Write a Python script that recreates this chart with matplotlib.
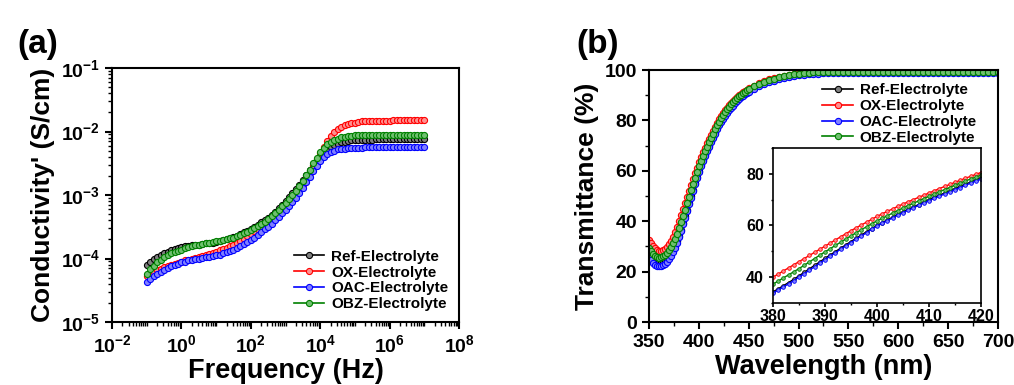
import numpy as np
import matplotlib
matplotlib.use('Agg')
import matplotlib.pyplot as plt
from matplotlib.ticker import FixedLocator, LogLocator, NullFormatter, MultipleLocator, FuncFormatter

plt.rcParams['font.family'] = ['Liberation Sans', 'DejaVu Sans']
plt.rcParams['font.weight'] = 'bold'
plt.rcParams['mathtext.fontset'] = 'custom'
plt.rcParams['mathtext.rm'] = 'Liberation Sans:bold'
plt.rcParams['mathtext.it'] = 'Liberation Sans:bold'
plt.rcParams['mathtext.bf'] = 'Liberation Sans:bold'

labels = ['Ref-Electrolyte', 'OX-Electrolyte', 'OAC-Electrolyte', 'OBZ-Electrolyte']
colors = ['#000000', '#ff0000', '#0000ff', '#008000']
fills = ['#808080', '#ff9090', '#8080ff', '#70c070']

# (a) conductivity, log10 values at 10 points per decade from 0.1 Hz to 1e7 Hz
freq = np.logspace(-1, 7, 81)
ref_log = [-4.10, -4.05, -4.01, -3.97, -3.94, -3.91, -3.89, -3.87, -3.85, -3.84,
           -3.82, -3.81, -3.80, -3.79, -3.79, -3.78, -3.77, -3.76, -3.76, -3.75,
           -3.74, -3.73, -3.71, -3.70, -3.68, -3.66, -3.64, -3.61, -3.59, -3.56,
           -3.53, -3.50, -3.47, -3.43, -3.40, -3.36, -3.31, -3.26, -3.21, -3.15,
           -3.09, -3.03, -2.97, -2.90, -2.84, -2.77, -2.69, -2.61, -2.53, -2.46,
           -2.39, -2.33, -2.28, -2.24, -2.21, -2.19, -2.17, -2.16, -2.15, -2.14,
           -2.14, -2.13, -2.13, -2.13, -2.13, -2.13, -2.12, -2.12, -2.12, -2.12,
           -2.12, -2.12, -2.12, -2.12, -2.12, -2.12, -2.12, -2.12, -2.12, -2.12, -2.12]
ox_log = [-4.27, -4.24, -4.21, -4.18, -4.16, -4.14, -4.12, -4.10, -4.08, -4.07,
          -4.05, -4.03, -4.02, -4.00, -3.99, -3.97, -3.96, -3.94, -3.93, -3.91,
          -3.89, -3.87, -3.85, -3.83, -3.80, -3.78, -3.75, -3.72, -3.69, -3.65,
          -3.61, -3.57, -3.53, -3.49, -3.45, -3.41, -3.36, -3.31, -3.26, -3.21,
          -3.16, -3.10, -3.04, -2.98, -2.91, -2.84, -2.75, -2.65, -2.54, -2.44,
          -2.34, -2.24, -2.15, -2.07, -2.01, -1.96, -1.93, -1.90, -1.88, -1.87,
          -1.86, -1.85, -1.84, -1.84, -1.84, -1.83, -1.83, -1.83, -1.83, -1.83,
          -1.83, -1.82, -1.82, -1.82, -1.82, -1.82, -1.82, -1.82, -1.82, -1.82, -1.82]
oac_log = [-4.37, -4.32, -4.28, -4.24, -4.21, -4.18, -4.15, -4.12, -4.10, -4.08,
           -4.06, -4.05, -4.03, -4.02, -4.01, -4.00, -3.99, -3.98, -3.97, -3.96,
           -3.95, -3.94, -3.92, -3.90, -3.88, -3.86, -3.83, -3.80, -3.77, -3.74,
           -3.71, -3.67, -3.63, -3.59, -3.54, -3.50, -3.45, -3.40, -3.35, -3.29,
           -3.23, -3.17, -3.11, -3.04, -2.97, -2.89, -2.80, -2.71, -2.62, -2.54,
           -2.46, -2.40, -2.35, -2.32, -2.30, -2.28, -2.27, -2.27, -2.26, -2.26,
           -2.26, -2.26, -2.26, -2.25, -2.25, -2.25, -2.25, -2.25, -2.25, -2.25,
           -2.25, -2.25, -2.25, -2.25, -2.25, -2.25, -2.25, -2.25, -2.25, -2.25, -2.25]
obz_log = [-4.24, -4.17, -4.11, -4.06, -4.02, -3.98, -3.95, -3.92, -3.90, -3.88,
           -3.86, -3.84, -3.82, -3.81, -3.79, -3.78, -3.77, -3.76, -3.75, -3.74,
           -3.73, -3.72, -3.71, -3.70, -3.68, -3.67, -3.65, -3.63, -3.60, -3.58,
           -3.55, -3.52, -3.49, -3.45, -3.42, -3.38, -3.33, -3.29, -3.24, -3.18,
           -3.12, -3.06, -3.00, -2.93, -2.86, -2.78, -2.69, -2.60, -2.50, -2.41,
           -2.33, -2.26, -2.20, -2.16, -2.13, -2.11, -2.09, -2.08, -2.07, -2.07,
           -2.06, -2.06, -2.06, -2.06, -2.06, -2.06, -2.06, -2.05, -2.05, -2.05,
           -2.05, -2.05, -2.05, -2.05, -2.05, -2.05, -2.05, -2.05, -2.05, -2.05, -2.05]

# (b) transmittance: every 2 nm from 350 to 450 nm, then every 5 nm to 700 nm
wl = np.concatenate([np.arange(350, 451, 2), np.arange(455, 701, 5)])
ref_t = [27.5, 26.3, 25.3, 24.5, 24.0, 23.7, 23.7, 23.9, 24.4, 25.1,
         26.0, 27.2, 28.6, 30.3, 32.2, 34.3, 36.7, 39.2, 41.9, 44.6,
         47.3, 49.9, 52.5, 55.1, 57.6, 60.0, 62.2, 64.3, 66.2, 68.1,
         70.0, 71.7, 73.4, 75.1, 76.8, 78.5, 79.9, 81.2, 82.4, 83.5,
         84.6, 85.6, 86.5, 87.4, 88.2, 89.0, 89.7, 90.3, 90.9, 91.5, 92.0,
         93.2, 94.2, 95.1, 95.8, 96.4, 96.9, 97.4, 97.8, 98.1, 98.4,
         98.6, 98.8, 99.0, 99.1, 99.2, 99.2, 99.2, 99.3, 99.3, 99.3,
         99.3, 99.3, 99.3, 99.3, 99.3, 99.3, 99.3, 99.3, 99.3, 99.3,
         99.3, 99.3, 99.3, 99.3, 99.3, 99.3, 99.3, 99.3, 99.3, 99.3,
         99.3, 99.3, 99.3, 99.3, 99.3, 99.3, 99.3, 99.3, 99.3, 99.3]
ox_t = [32.5, 31.2, 30.1, 29.2, 28.6, 28.3, 28.3, 28.6, 29.1, 29.9,
        30.9, 32.2, 33.8, 35.6, 37.7, 40.0, 42.4, 44.8, 47.2, 49.6,
        52.0, 54.4, 56.8, 59.1, 61.3, 63.5, 65.5, 67.4, 69.2, 70.9,
        72.6, 74.3, 75.9, 77.5, 79.0, 80.5, 81.8, 83.0, 84.1, 85.1,
        86.0, 86.9, 87.7, 88.5, 89.2, 89.9, 90.5, 91.1, 91.7, 92.2, 92.7,
        93.8, 94.8, 95.6, 96.3, 96.9, 97.4, 97.8, 98.2, 98.5, 98.8,
        99.0, 99.2, 99.3, 99.4, 99.5, 99.5, 99.5, 99.5, 99.5, 99.5,
        99.5, 99.5, 99.5, 99.5, 99.5, 99.5, 99.5, 99.5, 99.5, 99.5,
        99.5, 99.5, 99.5, 99.5, 99.5, 99.5, 99.5, 99.5, 99.5, 99.5,
        99.5, 99.5, 99.5, 99.5, 99.5, 99.5, 99.5, 99.5, 99.5, 99.5]
oac_t = [25.8, 24.5, 23.5, 22.7, 22.3, 22.1, 22.2, 22.5, 23.1, 23.9,
         24.9, 26.2, 27.7, 29.5, 31.5, 33.8, 36.2, 38.7, 41.3, 44.0,
         46.8, 49.4, 52.1, 54.7, 57.2, 59.7, 61.9, 64.0, 65.9, 67.8,
         69.6, 71.3, 73.0, 74.7, 76.4, 78.0, 79.4, 80.6, 81.8, 82.9,
         84.0, 85.0, 85.9, 86.8, 87.6, 88.4, 89.1, 89.7, 90.3, 90.9, 91.4,
         92.6, 93.6, 94.5, 95.2, 95.8, 96.4, 96.8, 97.2, 97.6, 97.9,
         98.1, 98.3, 98.5, 98.6, 98.7, 98.8, 98.8, 98.9, 98.9, 98.9,
         99.0, 99.0, 99.0, 99.0, 99.0, 99.0, 99.0, 99.0, 99.0, 99.0,
         99.0, 99.0, 99.0, 99.0, 99.0, 99.0, 99.0, 99.0, 99.0, 99.0,
         99.0, 99.0, 99.0, 99.0, 99.0, 99.0, 99.0, 99.0, 99.0, 99.0]
obz_t = [29.5, 28.2, 27.1, 26.3, 25.8, 25.6, 25.7, 26.0, 26.6, 27.4,
         28.4, 29.7, 31.2, 33.0, 35.1, 37.3, 39.7, 42.1, 44.6, 47.2,
         49.8, 52.3, 54.8, 57.2, 59.5, 61.8, 63.8, 65.8, 67.7, 69.5,
         71.3, 73.0, 74.7, 76.4, 78.0, 79.5, 80.9, 82.1, 83.3, 84.4,
         85.5, 86.4, 87.3, 88.1, 88.9, 89.6, 90.2, 90.8, 91.4, 91.9, 92.4,
         93.5, 94.5, 95.3, 96.0, 96.6, 97.1, 97.6, 98.0, 98.3, 98.6,
         98.8, 99.0, 99.1, 99.2, 99.3, 99.3, 99.4, 99.4, 99.4, 99.4,
         99.4, 99.4, 99.4, 99.4, 99.4, 99.4, 99.4, 99.4, 99.4, 99.4,
         99.4, 99.4, 99.4, 99.4, 99.4, 99.4, 99.4, 99.4, 99.4, 99.4,
         99.4, 99.4, 99.4, 99.4, 99.4, 99.4, 99.4, 99.4, 99.4, 99.4]

# inset, every 1 nm from 380 to 420 nm
wl_in = np.arange(380, 421, 1)
ref_in = [34.3, 35.5, 36.7, 37.9, 39.2, 40.5, 41.9, 43.2, 44.6, 45.9, 47.3, 48.6, 49.9, 51.2,
          52.5, 53.8, 55.1, 56.3, 57.6, 58.8, 60.0, 61.1, 62.2, 63.2, 64.3, 65.3, 66.2, 67.2,
          68.1, 69.1, 70.0, 70.9, 71.7, 72.6, 73.4, 74.3, 75.1, 76.0, 76.8, 77.7, 78.5]
ox_in = [40.0, 41.2, 42.4, 43.6, 44.8, 46.0, 47.2, 48.4, 49.6, 50.8, 52.0, 53.2, 54.4, 55.6,
         56.8, 58.0, 59.1, 60.2, 61.3, 62.4, 63.5, 64.5, 65.5, 66.4, 67.4, 68.3, 69.2, 70.0,
         70.9, 71.7, 72.6, 73.4, 74.3, 75.1, 75.9, 76.7, 77.5, 78.3, 79.0, 79.8, 80.5]
oac_in = [33.8, 35.0, 36.2, 37.4, 38.7, 40.0, 41.3, 42.7, 44.0, 45.4, 46.8, 48.1, 49.4, 50.8,
          52.1, 53.4, 54.7, 55.9, 57.2, 58.5, 59.7, 60.8, 61.9, 62.9, 64.0, 65.0, 65.9, 66.8,
          67.8, 68.7, 69.6, 70.5, 71.3, 72.2, 73.0, 73.9, 74.7, 75.5, 76.4, 77.2, 78.0]
obz_in = [37.3, 38.5, 39.7, 40.9, 42.1, 43.3, 44.6, 45.9, 47.2, 48.5, 49.8, 51.0, 52.3, 53.5,
          54.8, 56.0, 57.2, 58.4, 59.5, 60.7, 61.8, 62.8, 63.8, 64.8, 65.8, 66.8, 67.7, 68.6,
          69.5, 70.4, 71.3, 72.2, 73.0, 73.9, 74.7, 75.6, 76.4, 77.2, 78.0, 78.7, 79.5]

cond = [10 ** np.array(v) for v in (ref_log, ox_log, oac_log, obz_log)]
trans = [ref_t, ox_t, oac_t, obz_t]
trans_in = [ref_in, ox_in, oac_in, obz_in]

fig = plt.figure(figsize=(10.14, 3.85), dpi=100)
ax1 = fig.add_axes([0.1105, 0.1636, 0.3422, 0.6597])
ax2 = fig.add_axes([0.640, 0.1636, 0.3442, 0.6545])
ax3 = fig.add_axes([0.7623, 0.213, 0.2051, 0.4026])

def style(ax, size, lw=1.5, tl=5):
    for s in ax.spines.values():
        s.set_linewidth(lw)
    ax.tick_params(which='major', direction='out', length=tl, width=lw, labelsize=size,
                   top=False, right=False)
    ax.tick_params(which='minor', direction='out', length=tl * 0.55, width=1.0,
                   top=False, right=False)

# panel (a)
for y, c, fc, lab in zip(cond, colors, fills, labels):
    ax1.plot(freq, y, '-o', color=c, mfc=fc, mec=c, ms=4.4, mew=0.8, lw=1.2, label=lab)
ax1.set_xscale('log')
ax1.set_yscale('log')
ax1.set_xlim(1e-2, 1e8)
ax1.set_ylim(1e-5, 1e-1)
ax1.xaxis.set_major_locator(FixedLocator([1e-2, 1e0, 1e2, 1e4, 1e6, 1e8]))
ax1.xaxis.set_minor_locator(LogLocator(base=10, subs=np.arange(1, 10), numticks=30))
ax1.yaxis.set_major_locator(FixedLocator([1e-5, 1e-4, 1e-3, 1e-2, 1e-1]))
ax1.yaxis.set_minor_locator(LogLocator(base=10, subs=np.arange(2, 10), numticks=30))
ax1.xaxis.set_minor_formatter(NullFormatter())
ax1.yaxis.set_minor_formatter(NullFormatter())
expfmt = FuncFormatter(lambda v, p: r'$10^{%d}$' % int(round(np.log10(v))))
ax1.xaxis.set_major_formatter(expfmt)
ax1.yaxis.set_major_formatter(expfmt)
style(ax1, 14)
ax1.set_xlabel('Frequency (Hz)', fontsize=19.5, fontweight='bold', labelpad=2)
ax1.set_ylabel("Conductivity' (S/cm)", fontsize=19, fontweight='bold', labelpad=4)
ax1.legend(loc='lower right', frameon=False, handlelength=2.0,
           handletextpad=0.45, labelspacing=0.12, borderaxespad=0.3,
           prop={'weight': 'bold', 'size': 11})
fig.text(0.037, 0.885, '(a)', fontsize=24, fontweight='bold', ha='center', va='center')

# panel (b)
for y, c, fc, lab in zip(trans, colors, fills, labels):
    ax2.plot(wl, y, '-o', color=c, mfc=fc, mec=c, ms=4.5, mew=0.8, lw=1.2, label=lab)
ax2.set_xlim(350, 700)
ax2.set_ylim(0, 100)
ax2.xaxis.set_major_locator(MultipleLocator(50))
ax2.xaxis.set_minor_locator(MultipleLocator(25))
ax2.yaxis.set_major_locator(MultipleLocator(20))
ax2.yaxis.set_minor_locator(MultipleLocator(10))
style(ax2, 14)
ax2.set_xlabel('Wavelength (nm)', fontsize=19.5, fontweight='bold', labelpad=2)
ax2.set_ylabel('Transmittance (%)', fontsize=19, fontweight='bold', labelpad=4)
ax2.legend(loc='upper right', bbox_to_anchor=(0.97, 0.99), frameon=False, handlelength=2.0,
           handletextpad=0.45, labelspacing=0.12, borderaxespad=0.3,
           prop={'weight': 'bold', 'size': 11})
fig.text(0.589, 0.885, '(b)', fontsize=24, fontweight='bold', ha='center', va='center')

# inset
for y, c, fc in zip(trans_in, colors, fills):
    ax3.plot(wl_in, y, '-o', color=c, mfc=fc, mec=c, ms=2.6, mew=0.6, lw=1.0)
ax3.set_xlim(380, 420)
ax3.set_ylim(30, 90)
ax3.xaxis.set_major_locator(MultipleLocator(10))
ax3.xaxis.set_minor_locator(MultipleLocator(5))
ax3.yaxis.set_major_locator(FixedLocator([40, 60, 80]))
ax3.yaxis.set_minor_locator(FixedLocator([30, 50, 70, 90]))
style(ax3, 11.5, lw=1.2, tl=3)
ax3.tick_params(axis='x', pad=1)

fig.savefig('out.png', dpi=100)
